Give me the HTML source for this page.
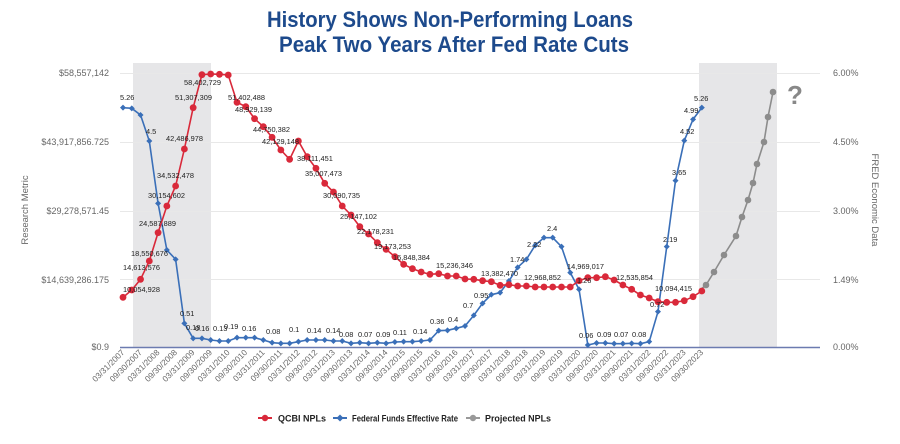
<!DOCTYPE html>
<html><head><meta charset="utf-8"><style>
html,body{margin:0;padding:0;background:#fff;width:900px;height:444px;overflow:hidden}
svg{display:block;font-family:"Liberation Sans",sans-serif}
</style></head><body>
<svg id="s" width="900" height="444" viewBox="0 0 900 444" xmlns="http://www.w3.org/2000/svg">
<text x="450" y="27" text-anchor="middle" font-size="22" font-weight="bold" fill="#1d4a8c" textLength="366" lengthAdjust="spacingAndGlyphs">History Shows Non-Performing Loans</text>
<text x="454" y="52" text-anchor="middle" font-size="22" font-weight="bold" fill="#1d4a8c" textLength="350" lengthAdjust="spacingAndGlyphs">Peak Two Years After Fed Rate Cuts</text>
<rect x="133" y="63" width="78" height="284" fill="#e6e6e8"/>
<rect x="699" y="63" width="78" height="284" fill="#e6e6e8"/>
<g stroke="#e8e8e8" stroke-width="1">
<line x1="120" x2="820" y1="73.5" y2="73.5"/><line x1="120" x2="820" y1="142.5" y2="142.5"/>
<line x1="120" x2="820" y1="211.5" y2="211.5"/><line x1="120" x2="820" y1="279.5" y2="279.5"/>
</g>
<line x1="120" x2="820" y1="347.5" y2="347.5" stroke="#6c7bb0" stroke-width="1.5"/>
<g font-size="9" fill="#666" text-anchor="end">
<text x="109" y="76">$58,557,142</text><text x="109" y="145">$43,917,856.725</text>
<text x="109" y="214">$29,278,571.45</text><text x="109" y="283">$14,639,286.175</text>
<text x="109" y="350">$0.9</text>
</g>
<g font-size="9" fill="#666">
<text x="833" y="76">6.00%</text><text x="833" y="145">4.50%</text><text x="833" y="214">3.00%</text>
<text x="833" y="283">1.49%</text><text x="833" y="350">0.00%</text>
</g>
<text transform="translate(28,210) rotate(-90)" font-size="9.5" fill="#666" text-anchor="middle">Research Metric</text>
<text transform="translate(872,200) rotate(90)" font-size="9.5" fill="#666" text-anchor="middle">FRED Economic Data</text>
<text x="795" y="104" font-size="26" font-weight="bold" fill="#888" text-anchor="middle">?</text>
<g id="dyn"></g>
<g font-size="9" font-weight="bold" fill="#222">
<line x1="258" x2="272" y1="418" y2="418" stroke="#d9293a" stroke-width="2"/><circle cx="265" cy="418" r="3.2" fill="#d9293a"/>
<text x="278" y="421.5" textLength="48" lengthAdjust="spacingAndGlyphs">QCBI NPLs</text>
<line x1="333" x2="347" y1="418" y2="418" stroke="#3a6fb8" stroke-width="2"/><path d="M340 414.5 L343.5 418 L340 421.5 L336.5 418Z" fill="#3a6fb8"/>
<text x="352" y="421.5" textLength="106" lengthAdjust="spacingAndGlyphs">Federal Funds Effective Rate</text>
<line x1="466" x2="480" y1="418" y2="418" stroke="#999" stroke-width="2"/><circle cx="473" cy="418" r="3.2" fill="#999"/>
<text x="485" y="421.5" textLength="66" lengthAdjust="spacingAndGlyphs">Projected NPLs</text>
</g>
</svg>
<script>
var NS="http://www.w3.org/2000/svg",g=document.getElementById("dyn");
function X(i){return 123+8.77*i;}
var r1=[712,690,658,603,518,438,378,267,143,44,42,43,45,127,140,176,200,232,270,298,243,290,325,370,396,438,465,500,522,548,568,590];
var r2=[613,626,636,643,641,648,648,657,658,662,665,676,674,678,678,681,681,681,681,681,662,653,653,650,660,675,688,705,714,725,727,727,722,710,693];
var b1=[143,145,165,243,430,570,598,790,835,835,840,843,843,833,833,833,840,848,850,850,845,840,840,840,843,843,850,848,850,848,850,846];
var b2=[845,845,843,840,812,811,805,798,766,730,704,698,663,622,598,556,533,533,560,638,688,855,849,849,851,851,850,851,845,755,560,362,242,178,143];
var R=[],B=[];
r1.forEach(function(v,i){R.push([X(i),v/3+60]);});
r2.forEach(function(v,i){R.push([X(32+i),v/3+60]);});
b1.forEach(function(v,i){B.push([X(i),v/3+60]);});
b2.forEach(function(v,i){B.push([X(32+i),v/3+60]);});
var gx=[699,706,714,724,736,742,748,753,757,764,768,773],gy=[291,285,272,255,236,217,200,183,164,142,117,92];
var G=gx.map(function(x,i){return [x,gy[i]];});
function el(t,a){var e=document.createElementNS(NS,t);for(var k in a)e.setAttribute(k,a[k]);g.appendChild(e);return e;}
function line(P,c){el("polyline",{points:P.map(function(p){return p.join(",");}).join(" "),fill:"none",stroke:c,"stroke-width":1.6});}
line(G,"#8c8c8c");line(B,"#3a6fb8");line(R,"#d9293a");
G.slice(1).forEach(function(p){el("circle",{cx:p[0],cy:p[1],r:3.3,fill:"#8c8c8c"});});
B.forEach(function(p){el("path",{d:"M"+p[0]+" "+(p[1]-3)+"L"+(p[0]+3)+" "+p[1]+"L"+p[0]+" "+(p[1]+3)+"L"+(p[0]-3)+" "+p[1]+"Z",fill:"#3a6fb8"});});
R.forEach(function(p){el("circle",{cx:p[0],cy:p[1],r:3.4,fill:"#d9293a"});});
var L=[[123,292,"10,054,928"],[123,270,"14,613,576"],[131,256,"18,550,676"],[139,226,"24,587,889"],[148,198,"30,154,602"],[157,178,"34,532,478"],[166,141,"42,486,978"],[175,100,"51,307,309"],[184,85,"58,402,729"],[228,100,"51,402,488"],[235,112,"48,929,139"],[253,132,"44,750,382"],[262,144,"42,129,148"],[297,161,"38,111,451"],[305,176,"35,007,473"],[323,198,"30,090,735"],[340,219,"25,147,102"],[357,234,"22,178,231"],[374,249,"19,173,253"],[393,260,"16,848,384"],[436,268,"15,236,346"],[481,276,"13,382,470"],[524,280,"12,968,852"],[567,269,"14,969,017"],[616,280,"12,535,854"],[655,291,"10,094,415"],
[120,100,"5.26"],[146,134,"4.5"],[180,316,"0.51"],[186,330,"0.18"],[195,331,"0.16"],[213,331,"0.13"],[224,329,"0.19"],[242,331,"0.16"],[266,334,"0.08"],[289,332,"0.1"],[307,333,"0.14"],[326,333,"0.14"],[339,337,"0.08"],[358,337,"0.07"],[376,337,"0.09"],[393,335,"0.11"],[413,334,"0.14"],[430,324,"0.36"],[448,322,"0.4"],[463,308,"0.7"],[474,298,"0.95"],[510,262,"1.74"],[527,247,"2.22"],[547,231,"2.4"],[577,283,"1.26"],[579,338,"0.06"],[597,337,"0.09"],[614,337,"0.07"],[632,337,"0.08"],[650,307,"0.72"],[663,242,"2.19"],[672,175,"3.65"],[680,134,"4.52"],[684,113,"4.99"],[694,101,"5.26"]];
L.forEach(function(l){var t=el("text",{x:l[0],y:l[1],"font-size":"7.4",fill:"#222"});t.textContent=l[2];});
for(var k=0;k<34;k++){var q=k*2,yr=2007+Math.floor(q/4),lab=(q%4==0?"03/31/":"09/30/")+yr;var x=X(q)+2;
var t=el("text",{transform:"translate("+x+",353) rotate(-45)","font-size":"8.3",fill:"#666","text-anchor":"end"});t.textContent=lab;}
</script>
</body></html>
